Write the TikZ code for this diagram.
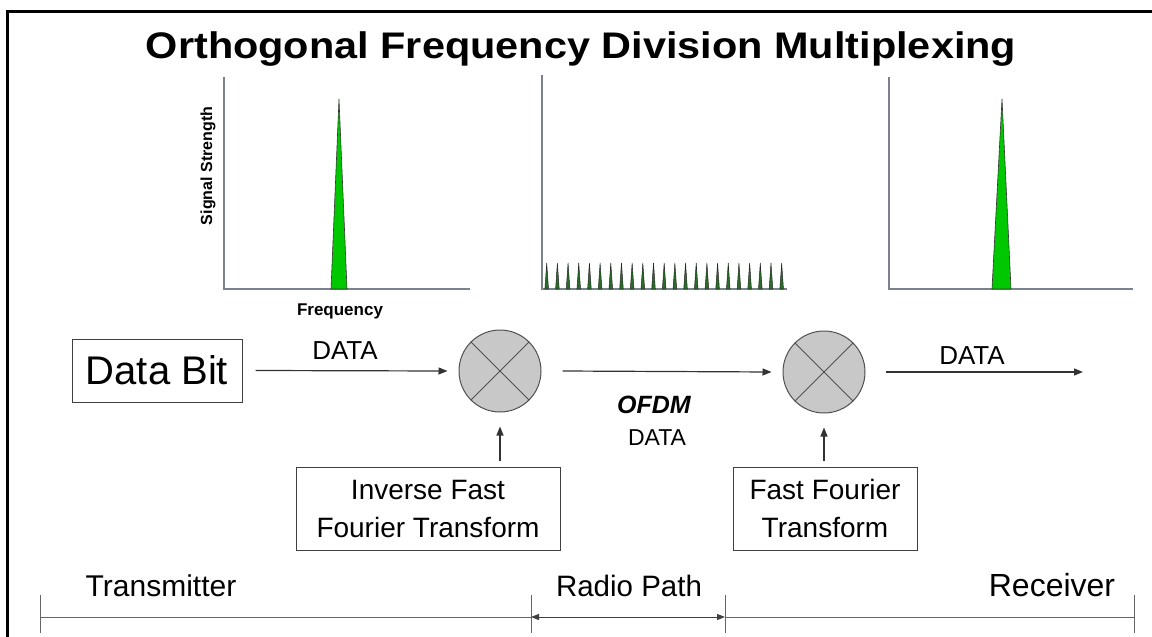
\documentclass[tikz,border=0pt]{standalone}
\usepackage{fontspec}
\setmainfont{Liberation Sans}
\newfontfamily\headfont[FakeStretch=1.12]{Liberation Sans}
\usetikzlibrary{arrows.meta}

\definecolor{peak}{RGB}{0,200,0}
\definecolor{peakdark}{RGB}{40,110,40}
\definecolor{axisgray}{RGB}{122,130,144}
\definecolor{mixfill}{RGB}{200,200,200}
\definecolor{mixedge}{RGB}{80,80,80}

\tikzset{
  flow/.style={draw=black!80, line width=1.2pt, -{Triangle[length=9pt,width=7pt]}},
  span/.style={draw=black!75, line width=1pt, {Triangle[length=8pt,width=6pt]}-{Triangle[length=8pt,width=6pt]}},
  plain/.style={draw=black!60, line width=1pt},
  blockbox/.style={draw=black!75, line width=1pt, align=center, inner sep=0pt,
    font=\fontsize{28}{38}\selectfont},
  mixer/.style={circle, draw=mixedge, fill=mixfill, line width=1pt, minimum size=82pt, inner sep=0pt},
  axisline/.style={draw=axisgray, line width=1.5pt},
  peakshape/.style={fill=peak, draw=black!80, line width=0.6pt, line join=round},
  subpeak/.style={fill=peakdark, draw=black!85, line width=0.5pt, line join=round},
  txt/.style={inner sep=0pt, anchor=base},
}

\begin{document}
\begin{tikzpicture}[x=1pt, y=-1pt]
\useasboundingbox (0,0) rectangle (1152,637);
\fill[white] (0,0) rectangle (1152,637);

% frame
\draw[line width=3pt] (7,637) -- (7,11) -- (1152,11);

% title
\node[txt] (title) at (581,58) {\headfont\bfseries\fontsize{37}{40}\selectfont Orthogonal Frequency Division Multiplexing};

% spectrum: single carrier (transmitter side)
\draw[axisline] (224,77) -- (224,289) -- (470,289);
\draw[peakshape] (331,289) -- (339,99) -- (347,289) -- cycle;
\node[txt, rotate=90] (ylabel) at (212,166) {\bfseries\fontsize{16}{18}\selectfont Signal Strength};
\node[txt] (xlabel) at (340,315) {\bfseries\fontsize{17}{19}\selectfont Frequency};

% spectrum: OFDM sub-carriers
\draw[axisline] (542,75) -- (542,289) -- (787,289);
\foreach \i in {0,...,22}{
  \pgfmathsetmacro{\px}{546.7+\i*10.68}
  \draw[subpeak] (\px-1.8,289) -- (\px,263) -- (\px+1.8,289) -- cycle;
}

% spectrum: single carrier (receiver side)
\draw[axisline] (889,77) -- (889,289) -- (1133,289);
\draw[peakshape] (992,289) -- (1002,99) -- (1011,289) -- cycle;

% signal chain
\node[blockbox, minimum width=170pt, minimum height=63pt, font=\fontsize{40}{44}\selectfont]
  (databit) at (157,370.5) {Data Bit};
\node[mixer] (mixA) at (500,371) {};
\node[mixer] (mixB) at (824,372) {};
\foreach \m in {mixA,mixB}{
  \draw[mixedge, line width=1pt] (\m.45) -- (\m.225) (\m.135) -- (\m.315);
}
\coordinate (out) at (1083,372);

\draw[flow] ([xshift=13pt]databit.east) -- ([xshift=-11pt]mixA.west);
\draw[flow] ([xshift=21pt]mixA.east) -- ([xshift=-11pt]mixB.west);
\draw[flow] ([xshift=20pt]mixB.east) -- (out);

\node[txt] (dataA) at (345,359) {\fontsize{26}{28}\selectfont DATA};
\node[txt] (dataB) at (972,364) {\fontsize{26}{28}\selectfont DATA};
\node[txt] (ofdm) at (654,413) {\bfseries\itshape\fontsize{25}{27}\selectfont OFDM};
\node[txt] (ofdmdata) at (657,445) {\fontsize{23}{25}\selectfont DATA};

% transform blocks
\node[blockbox, minimum width=264pt, minimum height=83pt] (ifft) at (428,508.5)
  {Inverse Fast\\Fourier Transform};
\node[blockbox, minimum width=184pt, minimum height=83pt] (fft) at (825,508.5)
  {Fast Fourier\\Transform};

\draw[flow] ([yshift=6pt]ifft.north -| mixA) -- ([yshift=-14pt]mixA.south);
\draw[flow] ([yshift=6pt]fft.north -| mixB) -- ([yshift=-14pt]mixB.south);

% transmitter / radio path / receiver span
\coordinate (tA) at (40,617);
\coordinate (tB) at (531,617);
\coordinate (tC) at (725,617);
\coordinate (tD) at (1134,617);
\foreach \t in {tA,tB,tC,tD}{
  \draw[plain] ([yshift=22pt]\t) -- ([yshift=-16pt]\t);
}
\draw[plain] (tA) -- (tB);
\draw[plain] (tC) -- (tD);
\draw[span] (tB) -- (tC);

\node[txt] (tx) at (161,596) {\fontsize{30}{32}\selectfont Transmitter};
\node[txt] (radio) at (629,596) {\fontsize{29.5}{32}\selectfont Radio Path};
\node[txt] (rx) at (1052,596) {\fontsize{32}{34}\selectfont Receiver};
\end{tikzpicture}
\end{document}
